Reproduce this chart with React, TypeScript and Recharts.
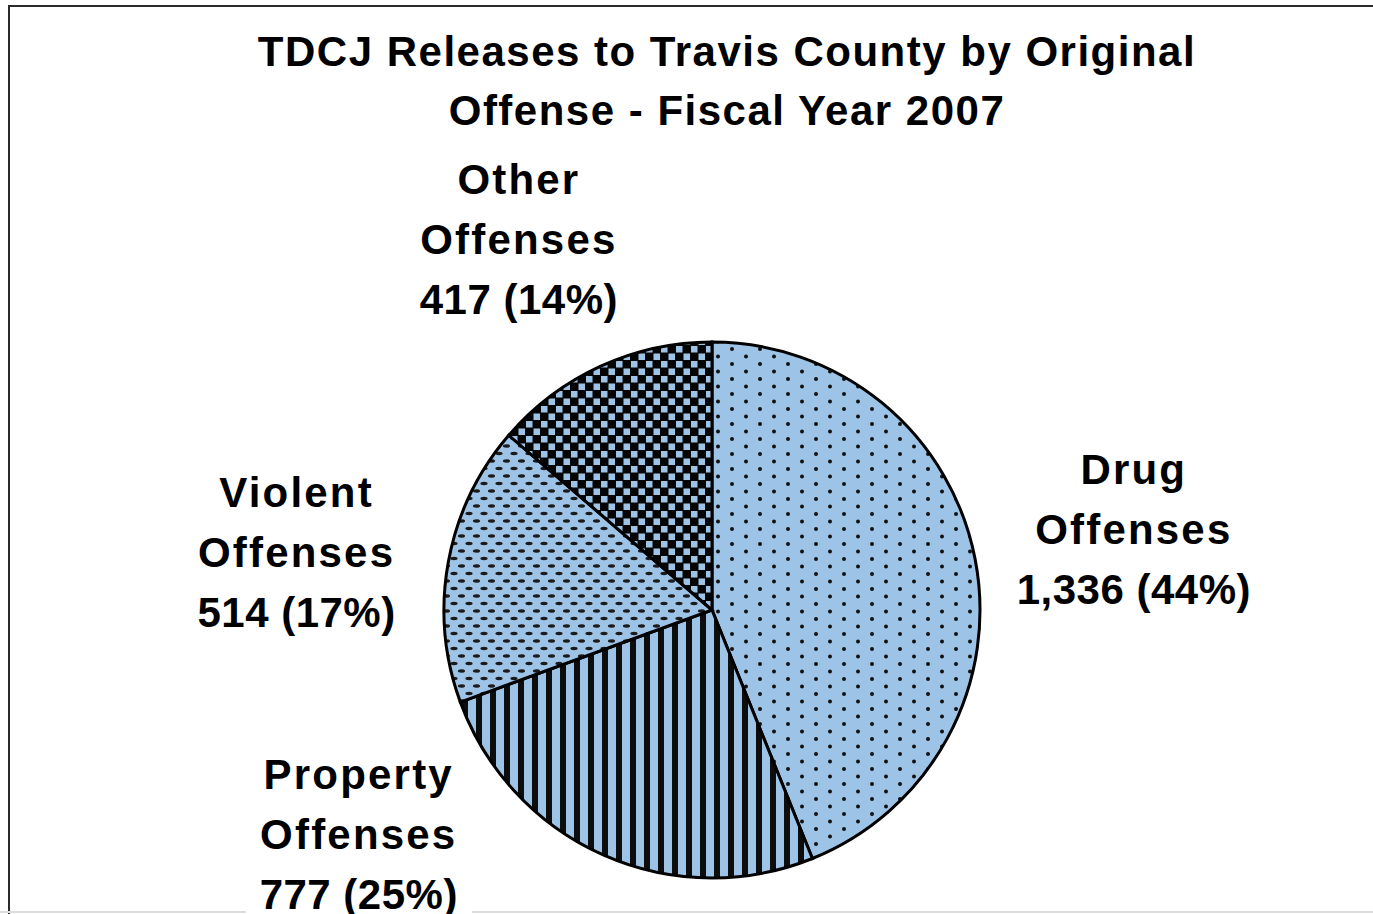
import React from "react";
import { PieChart, Pie, Cell } from "recharts";

// slices, clockwise from 12 o'clock
const offenseTypes = ["Drug", "Property", "Violent", "Other"];
const releases = [1336, 777, 514, 417];
const shownPercents = [44, 25, 17, 14]; // as printed on the chart
const titleLines = ["TDCJ Releases to Travis County by Original", "Offense - Fiscal Year 2007"];

const BLUE = "#9DC3E6";
const FONT = "'Liberation Sans', Arial, sans-serif";

const fills: Record<string, string> = {
  Drug: "url(#pat-drug)",
  Property: "url(#pat-property)",
  Violent: "url(#pat-violent)",
  Other: "url(#pat-other)",
};

// labels sit outside the pie, roughly on the slice bisector (Property got pushed aside)
const labelPlacement: Record<string, { dAngle: number; dR: number }> = {
  Drug: { dAngle: -0.5, dR: 161 },
  Property: { dAngle: -33.3, dR: 152 },
  Violent: { dAngle: 2.8, dR: 151 },
  Other: { dAngle: 3, dR: 148 },
};

const data = offenseTypes.map((name, i) => ({
  name,
  value: releases[i],
  pct: shownPercents[i],
}));

const RAD = Math.PI / 180;

function renderLabel(props: any) {
  const { cx, cy, midAngle, outerRadius, name, payload } = props;
  const place = labelPlacement[name] || { dAngle: 0, dR: 150 };
  const a = (midAngle + place.dAngle) * RAD;
  const r = outerRadius + place.dR;
  const x = cx + r * Math.cos(a);
  const y = cy - r * Math.sin(a) - 3;
  const pct = payload?.pct ?? props.pct;
  const val = (payload?.value ?? props.value).toLocaleString("en-US");
  const txt = {
    x,
    textAnchor: "middle" as const,
    fontFamily: FONT,
    fontWeight: 700,
    fontSize: 42,
    fill: "#000",
  };
  return (
    <g key={`lbl-${name}`}>
      <rect x={x - 113} y={y - 82} width={226} height={172} fill="#fff" />
      <text {...txt} y={y - 45} letterSpacing={2.2}>{name}</text>
      <text {...txt} y={y + 15} letterSpacing={2.2}>Offenses</text>
      <text {...txt} y={y + 75} letterSpacing={0.5}>{`${val} (${pct}%)`}</text>
    </g>
  );
}

export default function App() {
  return (
    <div
      style={{
        position: "absolute",
        left: 0,
        top: 0,
        width: 1373,
        height: 914,
        overflow: "hidden",
        background: "#fff",
      }}
    >
      <svg width={0} height={0} style={{ position: "absolute" }}>
        <defs>
          <pattern id="pat-drug" width="28" height="15" patternUnits="userSpaceOnUse">
            <rect width="28" height="15" fill={BLUE} />
            <circle cx="4" cy="4" r="2" fill="#111" />
            <circle cx="18" cy="11.5" r="2" fill="#111" />
          </pattern>
          <pattern id="pat-property" width="14" height="14" patternUnits="userSpaceOnUse">
            <rect width="14" height="14" fill={BLUE} />
            <rect x="0" y="0" width="6" height="14" fill="#0d0d0d" />
          </pattern>
          <pattern id="pat-violent" width="15" height="15" patternUnits="userSpaceOnUse">
            <rect width="15" height="15" fill={BLUE} />
            <ellipse cx="4" cy="3.5" rx="3.6" ry="1.7" fill="#1a1a1a" />
            <ellipse cx="11.5" cy="11" rx="3.6" ry="1.7" fill="#1a1a1a" />
          </pattern>
          <pattern id="pat-other" width="15" height="15" patternUnits="userSpaceOnUse">
            <rect width="15" height="15" fill="#050505" />
            <rect x="1" y="1" width="6.5" height="6.5" fill={BLUE} />
            <rect x="8.5" y="8.5" width="6.5" height="6.5" fill={BLUE} />
          </pattern>
        </defs>
      </svg>

      {/* chart frame, cropped on the right and bottom */}
      <div
        style={{
          position: "absolute",
          left: 8,
          top: 5,
          width: 1400,
          height: 1000,
          borderTop: "2.5px solid #2b2b2b",
          borderLeft: "2.5px solid #2b2b2b",
        }}
      />
      <div
        style={{
          position: "absolute",
          left: 0,
          top: 911,
          width: 1373,
          height: 2,
          background: "#dcdcdc",
        }}
      />

      <div style={{ position: "absolute", left: 0, top: 0 }}>
        <PieChart width={1373} height={914}>
          <Pie
            data={data}
            dataKey="value"
            nameKey="name"
            cx={707}
            cy={605}
            outerRadius={268}
            startAngle={90}
            endAngle={-270}
            stroke="#000"
            strokeWidth={3}
            label={renderLabel}
            labelLine={false}
            isAnimationActive={false}
          >
            {data.map((d) => (
              <Cell key={d.name} fill={fills[d.name]} />
            ))}
          </Pie>
        </PieChart>
      </div>

      <svg
        width={1373}
        height={914}
        style={{ position: "absolute", left: 0, top: 0, pointerEvents: "none" }}
      >
        {titleLines.map((line, i) => (
          <text
            key={i}
            x={727}
            y={66 + i * 59}
            textAnchor="middle"
            fontFamily={FONT}
            fontWeight={700}
            fontSize={42}
            letterSpacing={1.5}
            fill="#000"
          >
            {line}
          </text>
        ))}
      </svg>
    </div>
  );
}
